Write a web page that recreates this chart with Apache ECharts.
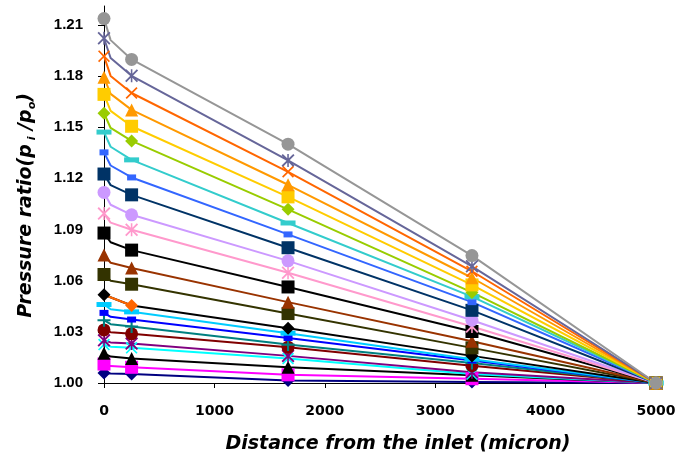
<!DOCTYPE html>
<html>
<head>
<meta charset="utf-8">
<script src="https://cdn.jsdelivr.net/npm/echarts@6/dist/echarts.min.js"></script>
<style>
  html, body { margin: 0; padding: 0; background: #ffffff; }
  #chart { width: 690px; height: 459px; }
</style>
</head>
<body>
<div id="chart"></div>
<script>
// Axial stations (micron) where pressure ratios are marked
const markerX = [0, 250, 1667, 3333, 5000];
// Station just downstream of the inlet where the entrance drop levels off (unmarked)
const kneeX = 60;

// Pressure ratio p_i/p_o for each curve, listed from the highest inlet pressure to the lowest
const atInlet = [1.2136, 1.2021, 1.1916, 1.1792, 1.1692, 1.1582, 1.1471, 1.1352, 1.1225, 1.1117, 1.0993, 1.0879,
                 1.0751, 1.0636, 1.0517, 1.0460, 1.0411, 1.0368, 1.0311, 1.0250, 1.0225, 1.0174, 1.0111, 1.0059];
const atKnee  = [1.2010, 1.1905, 1.1800, 1.1695, 1.1595, 1.1495, 1.1385, 1.1275, 1.1160, 1.1045, 1.0940, 1.0825,
                 1.0705, 1.0600, null,   1.0432, 1.0388, 1.0345, 1.0298, 1.0238, 1.0213, 1.0155, 1.0099, 1.0055];
const at250   = [1.1897, 1.1801, 1.1700, 1.1601, 1.1505, 1.1419, 1.1308, 1.1205, 1.1103, 1.0986, 1.0898, 1.0779,
                 1.0674, 1.0579, 1.0454, 1.0417, 1.0372, 1.0331, 1.0288, 1.0231, 1.0206, 1.0143, 1.0092, 1.0053];
const at1667  = [1.1400, 1.1305, 1.1238, 1.1162, 1.1091, 1.1018, 1.0938, 1.0871, 1.0793, 1.0716, 1.0646, 1.0563,
                 1.0474, 1.0407, 1.0321, 1.0292, 1.0264, 1.0225, 1.0210, 1.0159, 1.0143, 1.0092, 1.0048, 1.0015];
const at3333  = [1.0747, 1.0684, 1.0655, 1.0617, 1.0575, 1.0531, 1.0506, 1.0474, 1.0426, 1.0368, 1.0331, 1.0302,
                 1.0245, 1.0206, 1.0159, 1.0139, 1.0132, 1.0117, 1.0101, 1.0063, 1.0053, 1.0045, 1.0025, 1.0006];
const atOutlet = [1.00, 1.00, 1.00, 1.00, 1.00, 1.00, 1.00, 1.00, 1.00, 1.00, 1.00, 1.00,
                  1.00, 1.00, 1.00, 1.00, 1.00, 1.00, 1.00, 1.00, 1.00, 1.00, 1.00, 1.00];

// Axis tick labels
const xTicks = [0, 1000, 2000, 3000, 4000, 5000];
const yTicks = [1.00, 1.03, 1.06, 1.09, 1.12, 1.15, 1.18, 1.21];

// Marker shapes
const SYM_X = 'path://M0,1 L1,0 L5,4 L9,0 L10,1 L6,5 L10,9 L9,10 L5,6 L1,10 L0,9 L4,5 Z';
const SYM_STAR = 'path://M0,1 L1,0 L5,4 L9,0 L10,1 L6,5 L10,9 L9,10 L5,6 L1,10 L0,9 L4,5 Z M4.4,0 L5.6,0 L5.6,10 L4.4,10 Z';
const SYM_PLUS = 'path://M4.2,0 L5.8,0 L5.8,4.2 L10,4.2 L10,5.8 L5.8,5.8 L5.8,10 L4.2,10 L4.2,5.8 L0,5.8 L0,4.2 L4.2,4.2 Z';

// Per-curve style: colour, marker, marker size
const styles = [
  ['#969696', 'circle', 13],
  ['#666699', SYM_STAR, 13],
  ['#FF6600', SYM_X, 12],
  ['#FF9900', 'triangle', 13],
  ['#FFCC00', 'rect', 13],
  ['#99CC00', 'diamond', 13],
  ['#33CCCC', 'rect', [15, 5]],
  ['#3366FF', 'rect', [9, 6]],
  ['#003366', 'rect', 13],
  ['#CC99FF', 'circle', 13],
  ['#FF99CC', SYM_STAR, 13],
  ['#000000', 'rect', 13],
  ['#993300', 'triangle', 13],
  ['#333300', 'rect', 13],
  ['#000000', 'diamond', 13],
  ['#00CCFF', 'rect', [15, 5]],
  ['#0000FF', 'rect', [9, 6]],
  ['#008080', SYM_PLUS, 13],
  ['#800000', 'circle', 13],
  ['#800080', SYM_STAR, 13],
  ['#00FFFF', SYM_X, 12],
  ['#000000', 'triangle', 13],
  ['#FF00FF', 'rect', 13],
  ['#000080', 'diamond', 13]
];
// The curve whose second marker and first segment are drawn in orange
const accentCurve = 14;
const accentColor = '#FF6600';

const FONT = "'Liberation Sans', Arial, sans-serif";
const WIDE_FONT = "'DejaVu Sans', Verdana, sans-serif";

function curveData(i) {
  const cols = [atInlet, at250, at1667, at3333, atOutlet];
  const pts = [];
  markerX.forEach((x, k) => {
    if (k === 1 && atKnee[i] !== null) {
      pts.push({ value: [kneeX, atKnee[i]], symbol: 'none' });
    }
    const item = { value: [x, cols[k][i]] };
    if (i === accentCurve && k === 1) {
      item.itemStyle = { color: accentColor };
    }
    pts.push(item);
  });
  return pts;
}

const series = [];
// draw lowest curve first so the upper ones end on top
for (let i = atInlet.length - 1; i >= 0; i--) {
  const [color, symbol, size] = styles[i];
  series.push({
    type: 'line',
    name: 'c' + i,
    data: curveData(i),
    symbol: symbol,
    symbolSize: size,
    showAllSymbol: true,
    smooth: false,
    lineStyle: { color: color, width: 2 },
    itemStyle: { color: color, borderWidth: 0 },
    emphasis: { disabled: true },
    animation: false,
    z: 2
  });
  if (i === accentCurve) {
    series.push({
      type: 'line',
      data: [[markerX[0], atInlet[i]], [markerX[1], at250[i]]],
      symbol: 'none',
      lineStyle: { color: accentColor, width: 2 },
      emphasis: { disabled: true },
      animation: false,
      z: 2
    });
  }
}

const chart = echarts.init(document.getElementById('chart'), null, { renderer: 'canvas' });
chart.setOption({
  backgroundColor: '#ffffff',
  animation: false,
  grid: { left: 104, right: 34, top: 6, bottom: 68, containLabel: false },
  xAxis: {
    type: 'value',
    min: 0,
    max: 5000,
    interval: 1000,
    name: 'Distance from the inlet (micron)',
    nameLocation: 'middle',
    nameGap: 52,
    nameTextStyle: {
      fontFamily: WIDE_FONT, fontSize: 19, fontWeight: 'bold', fontStyle: 'italic', color: '#000',
      padding: [0, 0, 0, 36]
    },
    axisLine: { show: true, lineStyle: { color: '#000', width: 1 } },
    axisTick: { show: true, inside: false, length: 5, lineStyle: { color: '#000' }, customValues: xTicks },
    axisLabel: {
      fontFamily: WIDE_FONT, fontSize: 14, fontWeight: 'bold', color: '#000', margin: 21,
      customValues: xTicks,
      formatter: v => String(v)
    },
    splitLine: { show: false }
  },
  yAxis: {
    type: 'value',
    min: 1.00,
    max: 1.221,
    interval: 0.03,
    name: '{t|Pressure ratio(p}{s| i}{t| /p}{s|o}{t|)}',
    nameLocation: 'middle',
    nameRotate: 90,
    nameGap: 66,
    nameTextStyle: {
      padding: [0, 22, 0, 0],
      rich: {
        t: { fontFamily: WIDE_FONT, fontSize: 19, fontWeight: 'bold', fontStyle: 'italic', color: '#000', lineHeight: 24 },
        s: { fontFamily: WIDE_FONT, fontSize: 11, fontWeight: 'bold', fontStyle: 'italic', color: '#000', lineHeight: 24, verticalAlign: 'bottom', padding: [6, 0, 0, 0] }
      }
    },
    axisLine: { show: true, lineStyle: { color: '#000', width: 1 } },
    axisTick: { show: true, inside: false, length: 6, lineStyle: { color: '#000' }, customValues: yTicks },
    axisLabel: {
      fontFamily: FONT, fontSize: 15, fontWeight: 'bold', color: '#000', margin: 21,
      customValues: yTicks,
      formatter: v => v.toFixed(2)
    },
    splitLine: { show: false }
  },
  series: series
});
</script>
</body>
</html>
